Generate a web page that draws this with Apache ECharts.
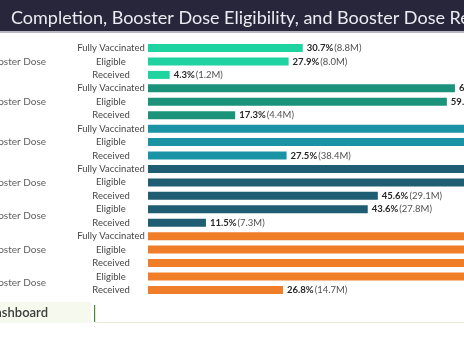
<!DOCTYPE html>
<html><head><meta charset="utf-8">
<script src="https://cdn.jsdelivr.net/npm/echarts@6/dist/echarts.min.js"></script>
<style>html,body{margin:0;padding:0;background:#fff;overflow:hidden}#c{width:464px;height:348px}</style>
</head><body><div id="c"></div>
<script>
const titleText = 'Completion, Booster Dose Eligibility, and Booster Dose Receipt';
const rowLabels = [
  'Fully Vaccinated','Eligible','Received',
  'Fully Vaccinated','Eligible','Received',
  'Fully Vaccinated','Eligible','Received',
  'Fully Vaccinated','Eligible','Received',
  'Eligible','Received',
  'Fully Vaccinated','Eligible','Received',
  'Eligible','Received'
];
const rowGroup = [0,0,0, 1,1,1, 2,2,2, 3,3,3, 4,4, 5,5,5, 6,6];
const pctValues = [
  30.7, 27.9, 4.3,
  60.9, 59.3, 17.3,
  72.6, 69.2, 27.5,
  83.5, 80.4, 45.6,
  43.6, 11.5,
  92.1, 89.9, 69.0,
  66.5, 26.8
];
const countLabels = [
  '8.8M','8.0M','1.2M',
  '15.5M','15.1M','4.4M',
  '101.4M','96.6M','38.4M',
  '53.3M','51.3M','29.1M',
  '27.8M','7.3M',
  '50.6M','49.4M','37.9M',
  '36.5M','14.7M'
];
const groupLabels = [
  'Ages 5-11 Booster Dose',
  'Ages 12-17 Booster Dose',
  'Ages 18-49 Booster Dose',
  'Ages 50-64 Booster Dose',
  'Ages 50-64 2nd Booster Dose',
  'Ages 65+ Booster Dose',
  'Ages 65+ 2nd Booster Dose'
];
const groupColors = ['#1fd3a1','#1a937a','#1a93a5','#1e5d72','#1e5d72','#f07d28','#f07d28'];

const groupCenters = groupLabels.map((g, gi) => {
  const idx = rowGroup.map((r, i) => r === gi ? i : -1).filter(i => i >= 0);
  return idx.reduce((a, b) => a + b, 0) / idx.length;
});

const FONT = 'Lato';
const chart = echarts.init(document.getElementById('c'), null, {renderer: 'canvas'});
chart.setOption({
  backgroundColor: '#ffffff',
  animation: false,
  title: {
    text: titleText, left: 6, top: 4,
    textStyle: {color: '#ececf2', fontSize: 18, fontWeight: 'normal', fontFamily: FONT}
  },
  graphic: [
    {type: 'rect', z: -1, shape: {x: 0, y: 0, width: 464, height: 31}, style: {fill: '#28263b'}},
    {type: 'rect', z: -1, shape: {x: 0, y: 31, width: 464, height: 2}, style: {fill: '#b8b8c0'}},
    {type: 'rect', z: -1, shape: {x: 0, y: 302, width: 91, height: 21}, style: {fill: '#f5f9ee'}},
    {type: 'text', style: {text: 'Dashboard', x: 48, y: 313, align: 'right', verticalAlign: 'middle', fill: '#3c3c3c', font: '600 13px Lato'}},
    {type: 'rect', shape: {x: 94, y: 305, width: 1.2, height: 17}, style: {fill: '#4e8a35'}},
    {type: 'rect', shape: {x: 95, y: 322, width: 369, height: 1}, style: {fill: '#e4ecd6'}}
  ],
  grid: {left: 148, right: 0, top: 41.3, bottom: 51.4, containLabel: false},
  xAxis: {type: 'value', min: 0, max: 62.7, show: false},
  yAxis: [
    {
      type: 'category', data: rowLabels, inverse: true,
      axisLine: {show: false}, axisTick: {show: false}, splitLine: {show: false},
      axisLabel: {align: 'center', margin: 37, color: '#454545', fontSize: 9.5, fontFamily: FONT}
    },
    {type: 'value', min: -0.5, max: 18.5, inverse: true, show: false}
  ],
  series: [
    {
      type: 'bar', yAxisIndex: 0, barWidth: 8, clip: true,
      data: pctValues.map((v, i) => ({value: v, itemStyle: {color: groupColors[rowGroup[i]]}})),
      label: {
        show: true, position: 'right', distance: 4,
        formatter: p => '{p|' + pctValues[p.dataIndex].toFixed(1) + '%}{n|(' + countLabels[p.dataIndex] + ')}',
        rich: {
          p: {fontFamily: FONT, fontSize: 9.5, fontWeight: 'bold', color: '#262626'},
          n: {fontFamily: FONT, fontSize: 9.5, color: '#505050', padding: [0, 0, 0, 1]}
        }
      }
    },
    {
      type: 'scatter', yAxisIndex: 1, symbolSize: 0, silent: true,
      data: groupCenters.map(c => [0, c]),
      label: {
        show: true, position: 'left', distance: 102,
        formatter: p => groupLabels[p.dataIndex],
        color: '#333333', fontSize: 10, fontFamily: FONT
      }
    }
  ]
});
</script>
</body></html>
